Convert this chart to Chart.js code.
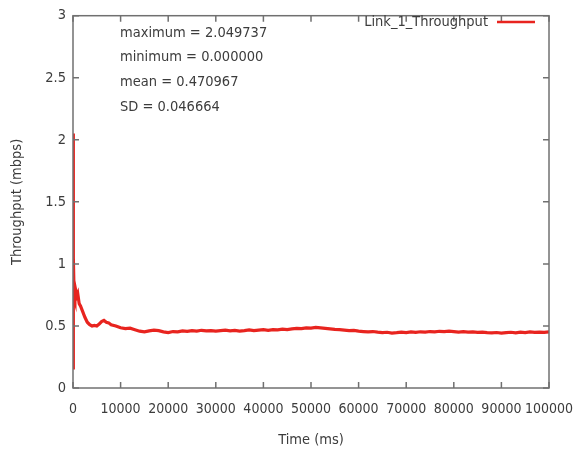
<!DOCTYPE html>
<html>
<head>
<meta charset="utf-8">
<script src="https://cdn.jsdelivr.net/npm/chart.js@4.4.1/dist/chart.umd.min.js"></script>
<style>
  html, body { margin: 0; padding: 0; background: #fff; }
  #wrap { width: 587px; height: 455px; }
</style>
</head>
<body>
<div id="wrap"><canvas id="chart"></canvas></div>
<script>
/* ── DATA ── */
const seriesLabel = 'Link_1_Throughput';
const timeMs = [
  0, 20, 40, 80, 150, 250, 400, 600, 800, 1000, 1300, 1600, 2000, 2500, 3000, 3500,
  4000, 4500, 5000, 5500, 6000, 6500, 7000, 7500, 8000, 9000,
  10000, 11000, 12000, 13000, 14000, 15000, 16000, 17000, 18000, 19000,
  20000, 21000, 22000, 23000, 24000, 25000, 26000, 27000, 28000, 29000,
  30000, 31000, 32000, 33000, 34000, 35000, 36000, 37000, 38000, 39000,
  40000, 41000, 42000, 43000, 44000, 45000, 46000, 47000, 48000, 49000,
  50000, 51000, 52000, 53000, 54000, 55000, 56000, 57000, 58000, 59000,
  60000, 61000, 62000, 63000, 64000, 65000, 66000, 67000, 68000, 69000,
  70000, 71000, 72000, 73000, 74000, 75000, 76000, 77000, 78000, 79000,
  80000, 81000, 82000, 83000, 84000, 85000, 86000, 87000, 88000, 89000,
  90000, 91000, 92000, 93000, 94000, 95000, 96000, 97000, 98000, 99000,
  100000
];
const throughput = [
  2.05, 0.15, 1.17, 0.95, 1.05, 0.72, 0.70, 0.78, 0.74, 0.76, 0.68, 0.66, 0.62, 0.57, 0.53, 0.51,
  0.50, 0.505, 0.50, 0.515, 0.535, 0.545, 0.53, 0.525, 0.51, 0.50,
  0.485, 0.478, 0.482, 0.470, 0.458, 0.452, 0.460, 0.466, 0.462, 0.452,
  0.447, 0.455, 0.452, 0.460, 0.456, 0.462, 0.458, 0.465, 0.460, 0.463,
  0.458, 0.462, 0.466, 0.460, 0.464, 0.459, 0.463, 0.468, 0.462, 0.466,
  0.470, 0.465, 0.471, 0.468, 0.474, 0.470, 0.476, 0.480, 0.478, 0.485,
  0.482, 0.488, 0.484, 0.480, 0.476, 0.472, 0.470, 0.466, 0.462, 0.464,
  0.458, 0.455, 0.452, 0.455, 0.450, 0.446, 0.449, 0.443, 0.446, 0.450,
  0.447, 0.452, 0.448, 0.453, 0.450, 0.455, 0.452, 0.457, 0.454, 0.458,
  0.455, 0.451, 0.454, 0.450, 0.452, 0.448, 0.450, 0.446, 0.444, 0.447,
  0.443, 0.446, 0.449, 0.445, 0.450, 0.447, 0.452, 0.448, 0.451, 0.449,
  0.452
];
const statLines = [
  'maximum = 2.049737',
  'minimum = 0.000000',
  'mean = 0.470967',
  'SD = 0.046664'
];

const FONT = "'DejaVu Sans Condensed', 'Liberation Sans', sans-serif";
const FSIZE = 14.5;
const TEXT = '#3c3c3c';
const FRAME = '#707070';
const RED = '#e8241f';

/* ── gnuplot-like frame with inward ticks, stats box and key ── */
const gnuFrame = {
  id: 'gnuFrame',
  afterDraw(chart) {
    const { ctx, chartArea: a, scales: { x, y } } = chart;
    const tick = 6;
    ctx.save();
    ctx.strokeStyle = FRAME;
    ctx.lineWidth = 1.5;
    ctx.strokeRect(a.left, a.top, a.right - a.left, a.bottom - a.top);
    ctx.beginPath();
    x.ticks.forEach(t => {
      const px = x.getPixelForValue(t.value);
      ctx.moveTo(px, a.bottom); ctx.lineTo(px, a.bottom - tick);
      ctx.moveTo(px, a.top);    ctx.lineTo(px, a.top + tick);
    });
    y.ticks.forEach(t => {
      const py = y.getPixelForValue(t.value);
      ctx.moveTo(a.left, py);  ctx.lineTo(a.left + tick, py);
      ctx.moveTo(a.right, py); ctx.lineTo(a.right - tick, py);
    });
    ctx.stroke();

    // stats
    ctx.fillStyle = TEXT;
    ctx.font = `${FSIZE}px ${FONT}`;
    ctx.textBaseline = 'middle';
    ctx.textAlign = 'left';
    statLines.forEach((s, i) => ctx.fillText(s, 120, 33 + i * 24.7));

    // key
    ctx.textAlign = 'right';
    ctx.fillText(seriesLabel, 488, 22);
    ctx.strokeStyle = RED;
    ctx.lineWidth = 2.5;
    ctx.beginPath();
    ctx.moveTo(497, 22); ctx.lineTo(535, 22);
    ctx.stroke();
    ctx.restore();
  }
};

new Chart(document.getElementById('chart'), {
  type: 'line',
  data: {
    datasets: [{
      label: seriesLabel,
      data: timeMs.map((t, i) => ({ x: t, y: throughput[i] })),
      borderColor: RED,
      borderWidth: 3.2,
      pointRadius: 0,
      tension: 0,
      fill: false,
    }],
  },
  options: {
    responsive: true, maintainAspectRatio: false,
    animation: false,
    layout: { padding: { left: 0, top: 13, right: 38, bottom: 0 } },
    plugins: { legend: { display: false }, tooltip: { enabled: false } },
    scales: {
      x: {
        type: 'linear', min: 0, max: 100000,
        grid: { display: false, drawTicks: false },
        border: { display: false },
        afterFit: s => { s.height = 67; },
        ticks: {
          stepSize: 10000, padding: 13, maxRotation: 0, autoSkip: false,
          color: TEXT, font: { family: FONT, size: 14 },
          callback: v => String(v),
        },
        title: {
          display: true, text: 'Time (ms)', color: TEXT,
          font: { family: FONT, size: FSIZE }, padding: { top: 0, bottom: 6 },
        },
      },
      y: {
        min: 0, max: 3,
        grid: { display: false, drawTicks: false },
        border: { display: false },
        afterFit: s => { s.width = 73; },
        ticks: {
          stepSize: 0.5, padding: 7,
          color: TEXT, font: { family: FONT, size: FSIZE },
          callback: v => String(v),
        },
        title: {
          display: true, text: 'Throughput (mbps)', color: TEXT,
          font: { family: FONT, size: FSIZE }, padding: { top: 9, bottom: 0 },
        },
      },
    },
  },
  plugins: [gnuFrame],
});
</script>
</body>
</html>
